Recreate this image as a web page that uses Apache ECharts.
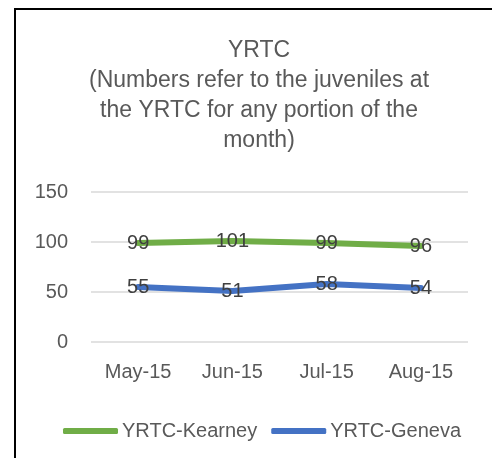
<!DOCTYPE html>
<html>
<head>
<meta charset="utf-8">
<script src="https://cdn.jsdelivr.net/npm/echarts@6/dist/echarts.min.js"></script>
<style>
  html, body { margin: 0; padding: 0; background: #fff; }
  #chart { width: 492px; height: 458px; }
</style>
</head>
<body>
<div id="chart"></div>
<script>
// data
var months = ['May-15', 'Jun-15', 'Jul-15', 'Aug-15'];
var kearney = [99, 101, 99, 96];
var geneva = [55, 51, 58, 54];
var yTicks = [0, 50, 100, 150];

var chart = echarts.init(document.getElementById('chart'), null, { renderer: 'canvas' });

const labelOption = {
  show: true,
  position: 'inside',
  fontFamily: 'Liberation Sans',
  fontSize: 20,
  color: '#404040'
};

var option = {
  backgroundColor: '#fff',
  animation: false,
  title: {
    text: 'YRTC\n(Numbers refer to the juveniles at\nthe YRTC for any portion of the\nmonth)',
    left: 254,
    textAlign: 'center',
    top: 31,
    textStyle: {
      fontFamily: 'Liberation Sans',
      fontSize: 23,
      fontWeight: 'normal',
      color: '#595959',
      lineHeight: 30
    }
  },
  graphic: [
    {
      type: 'rect',
      shape: { x: 15, y: 9, width: 500, height: 480 },
      style: { fill: 'none', stroke: '#000', lineWidth: 2 },
      silent: true
    }
  ],
  legend: {
    left: 58,
    top: 416,
    itemWidth: 55,
    itemHeight: 6,
    itemGap: 14,
    icon: 'roundRect',
    textStyle: {
      fontFamily: 'Liberation Sans',
      fontSize: 20,
      color: '#595959',
      padding: [0, 0, 0, -1]
    },
    data: ['YRTC-Kearney', 'YRTC-Geneva']
  },
  grid: {
    left: 91,
    right: 24,
    top: 192,
    bottom: 116,
    containLabel: false
  },
  xAxis: [
    {
      type: 'category',
      boundaryGap: true,
      axisTick: { show: false },
      axisLine: { show: false },
      axisLabel: {
        interval: 0,
        margin: 20,
        fontFamily: 'Liberation Sans',
        fontSize: 20,
        color: '#595959'
      },
      data: months
    }
  ],
  yAxis: [
    {
      type: 'value',
      min: yTicks[0],
      max: yTicks[yTicks.length - 1],
      interval: 50,
      axisLine: { show: false },
      axisTick: { show: false },
      axisLabel: {
        margin: 23,
        fontFamily: 'Liberation Sans',
        fontSize: 20,
        color: '#595959'
      },
      splitLine: { lineStyle: { color: '#d9d9d9', width: 1.5 } }
    }
  ],
  series: [
    {
      name: 'YRTC-Kearney',
      type: 'line',
      symbol: 'circle',
      symbolSize: 1,
      showSymbol: true,
      label: labelOption,
      itemStyle: { color: '#70ad47' },
      lineStyle: { color: '#70ad47', width: 6, cap: 'round', join: 'round' },
      data: kearney
    },
    {
      name: 'YRTC-Geneva',
      type: 'line',
      symbol: 'circle',
      symbolSize: 1,
      showSymbol: true,
      label: labelOption,
      itemStyle: { color: '#4472c4' },
      lineStyle: { color: '#4472c4', width: 6, cap: 'round', join: 'round' },
      data: geneva
    }
  ]
};
chart.setOption(option);
</script>
</body>
</html>
